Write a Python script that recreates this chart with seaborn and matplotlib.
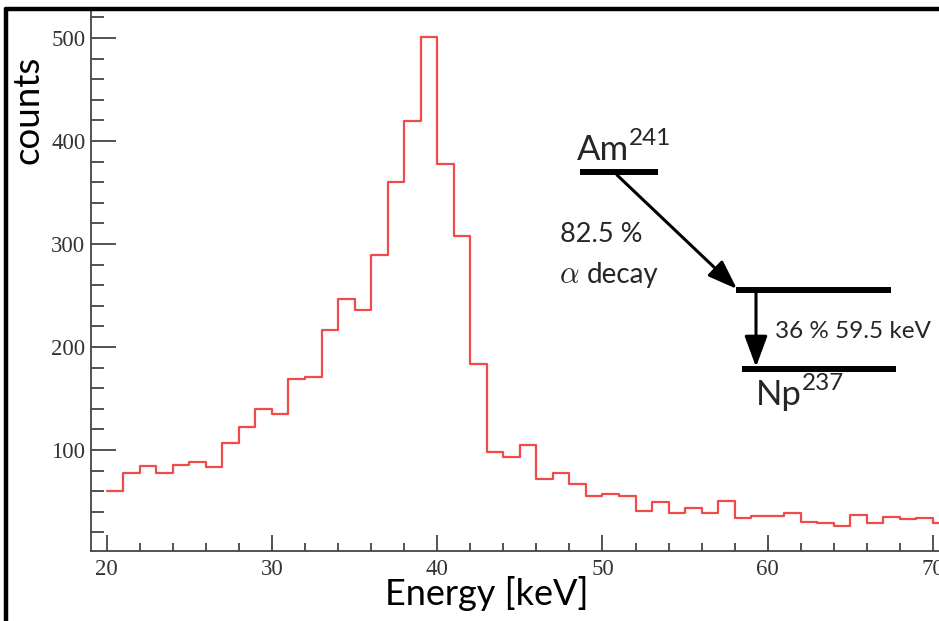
import numpy as np
import pandas as pd
import seaborn as sns
import matplotlib
matplotlib.use("Agg")
import matplotlib.pyplot as plt
from matplotlib.lines import Line2D
from matplotlib.ticker import MultipleLocator

# ---- data ----
bin_left = list(range(20, 71))  # keV, 1 keV bins
counts = [60, 78, 84, 78, 85, 88, 83, 107, 122, 140,
          135, 169, 171, 216, 247, 236, 289, 360, 419, 501,
          378, 308, 183, 98, 93, 105, 72, 78, 67, 55,
          57, 55, 41, 49, 39, 44, 39, 50, 34, 36,
          36, 39, 30, 29, 26, 37, 29, 35, 33, 34,
          29]
x_ticks = [20, 30, 40, 50, 60, 70]
y_ticks = [100, 200, 300, 400, 500]

df = pd.DataFrame({"energy": np.array(bin_left) + 0.5, "counts": counts})
edges = list(range(20, 72))

sns.set_style("white")
plt.rcParams["font.family"] = ["Lato", "DejaVu Sans"]
plt.rcParams["mathtext.fontset"] = "cm"

W, H = 939, 621
fig = plt.figure(figsize=(W / 100, H / 100), dpi=100)
ax = fig.add_axes([91 / W, (H - 551) / H, (W - 91) / W + 0.02, (551 - 12) / H])

sns.histplot(data=df, x="energy", weights="counts", bins=edges,
             element="step", fill=False, color="#f04a4a", linewidth=1.6, ax=ax)

ax.set_xlim(19.05, 71.5)
ax.set_ylim(1.9, 525.2)
ax.set_xticks(x_ticks)
ax.set_yticks(y_ticks)
ax.xaxis.set_minor_locator(MultipleLocator(2))
ax.yaxis.set_minor_locator(MultipleLocator(20))
for side in ["top", "right"]:
    ax.spines[side].set_visible(False)
for side in ["left", "bottom"]:
    ax.spines[side].set_color("#444444")
    ax.spines[side].set_linewidth(1.3)
ax.tick_params(axis="both", which="both", direction="in", color="#444444",
               width=1.3, labelcolor="#333333", bottom=True, left=True,
               top=False, right=False)
ax.tick_params(axis="y", which="major", length=18, pad=4)
ax.tick_params(axis="y", which="minor", length=9.5)
ax.tick_params(axis="x", which="major", length=11.5, pad=6)
ax.tick_params(axis="x", which="minor", length=6)
for lab in ax.get_xticklabels() + ax.get_yticklabels():
    lab.set_fontfamily(["Liberation Serif", "DejaVu Serif"])
    lab.set_fontsize(16.5)
ax.set_xlabel("")
ax.set_ylabel("")

def fp(x, y):
    return (x / W, 1 - y / H)

# axis titles
fig.text(*fp(487, 605), "Energy [keV]", fontsize=26, ha="center", va="baseline", color="black")
fig.text(*fp(28, 110), "counts", fontsize=26.5, ha="center", va="center", rotation=90,
         rotation_mode="anchor", color="black")

# decay scheme
def hline(x0, x1, y, lw=4.3):
    fig.add_artist(Line2D([x0 / W, x1 / W], [1 - y / H, 1 - y / H], color="black",
                          linewidth=lw, solid_capstyle="butt"))

hline(580, 658, 172.3)
hline(736, 891, 290)
hline(742, 896, 369.3)

ax.annotate("", xy=(737, H - 289), xycoords="figure pixels",
            xytext=(617, H - 175), textcoords="figure pixels",
            arrowprops=dict(arrowstyle="-|>,head_length=18,head_width=6.5",
                            mutation_scale=1, color="black", lw=2.2,
                            shrinkA=0, shrinkB=0))
ax.annotate("", xy=(756, H - 367), xycoords="figure pixels",
            xytext=(756, H - 292), textcoords="figure pixels",
            arrowprops=dict(arrowstyle="-|>,head_length=19,head_width=7",
                            mutation_scale=1, color="black", lw=2.2,
                            shrinkA=0, shrinkB=0))

fig.text(*fp(577, 160), "Am", fontsize=25, ha="left", va="baseline")
fig.text(*fp(629, 145), "241", fontsize=17.5, ha="left", va="baseline")
fig.text(*fp(756, 405), "Np", fontsize=25, ha="left", va="baseline")
fig.text(*fp(802, 390), "237", fontsize=17.5, ha="left", va="baseline")
fig.text(*fp(560, 242), "82.5 %", fontsize=19.5, ha="left", va="baseline")
fig.text(*fp(559, 283), r"$\alpha$", fontsize=22, ha="left", va="baseline")
fig.text(*fp(587, 283), "decay", fontsize=20, ha="left", va="baseline")
fig.text(*fp(775, 338), "36 % 59.5 keV", fontsize=17.5, ha="left", va="baseline")

# outer frame (top and left edges)
fig.add_artist(Line2D([6 / W, 1.0], [1 - 9 / H, 1 - 9 / H], color="black", linewidth=3.2))
fig.add_artist(Line2D([6 / W, 6 / W], [0, 1 - 9 / H], color="black", linewidth=3.2))

fig.savefig("out.png", dpi=100)
